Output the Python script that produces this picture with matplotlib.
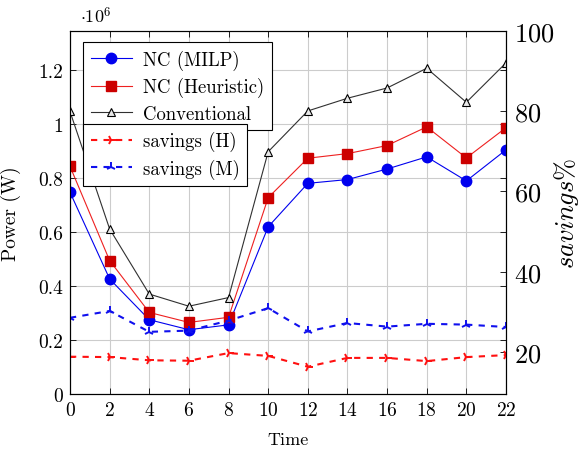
import numpy as np
import matplotlib
matplotlib.use("Agg")
import matplotlib.pyplot as plt
from matplotlib.ticker import FuncFormatter

plt.rcParams['font.family'] = 'serif'
plt.rcParams['font.serif'] = ['cmr10', 'DejaVu Serif']
plt.rcParams['mathtext.fontset'] = 'cm'
plt.rcParams['axes.formatter.use_mathtext'] = True

# data (power in W, savings in %)
time = [0, 2, 4, 6, 8, 10, 12, 14, 16, 18, 20, 22]
nc_milp = [0.747e6, 0.426e6, 0.275e6, 0.238e6, 0.256e6, 0.619e6,
           0.780e6, 0.794e6, 0.833e6, 0.878e6, 0.789e6, 0.904e6]
nc_heur = [0.843e6, 0.494e6, 0.302e6, 0.265e6, 0.284e6, 0.727e6,
           0.873e6, 0.890e6, 0.920e6, 0.989e6, 0.874e6, 0.986e6]
conventional = [1.046e6, 0.611e6, 0.370e6, 0.325e6, 0.357e6, 0.897e6,
                1.048e6, 1.095e6, 1.133e6, 1.206e6, 1.080e6, 1.226e6]
savings_h = [18.8, 18.7, 17.9, 17.8, 19.7, 19.0, 16.3, 18.5, 18.5, 17.7, 18.7, 19.2]
savings_m = [28.5, 30.2, 25.0, 25.3, 27.8, 30.9, 25.1, 27.2, 26.3, 27.0, 26.8, 26.2]

fig = plt.figure(figsize=(5.88, 4.52), dpi=100)
ax = fig.add_axes([70/588, 1-395/452, 436/588, 363/452])
ax2 = ax.twinx()

l1, = ax.plot(time, nc_milp, color='#0000ee', lw=0.8, marker='o', ms=7.5,
              label='NC (MILP)', zorder=3)
l2, = ax.plot(time, nc_heur, color='#ee2020', lw=0.8, marker='s', ms=7.5,
              mfc='#cc0000', mec='#cc0000', label='NC (Heuristic)', zorder=3)
l3, = ax.plot(time, conventional, color='#303030', lw=0.8, marker='^', ms=6,
              mfc='#e8e8e8', mec='black', mew=0.8, label='Conventional', zorder=3)

l4, = ax2.plot(time, savings_h, color='#ff1010', lw=1.5, ls=(0, (3, 3)),
               marker='4', ms=7, mew=1.4, label='savings (H)')
l5, = ax2.plot(time, savings_m, color='#1010ee', lw=1.5, ls=(0, (3, 3)),
               marker='2', ms=7, mew=1.4, label='savings (M)')

ax.set_xlim(0, 22)
ax.set_ylim(0, 1.344e6)
ax.set_xticks(time)
ax.set_yticks(np.arange(0, 1.25e6, 0.2e6))
ax.yaxis.set_major_formatter(FuncFormatter(lambda v, p: '%g' % round(v/1e6, 2)))
ax.grid(True, color='#cccccc', lw=0.8)
ax.set_axisbelow(True)
ax.tick_params(direction='in', length=4, top=True, right=True, labelsize=14,
               width=0.6, pad=5)
ax.set_xlabel('Time', fontsize=13, labelpad=9)
ax.set_ylabel('Power (W)', fontsize=14, labelpad=12)

ax2.set_ylim(9.5, 100)
ax2.set_yticks([20, 40, 60, 80, 100])
ax2.tick_params(direction='in', length=4, labelsize=19, pad=6, width=0.6)
ax2.set_ylabel(r'$savings\%$', fontsize=19, rotation=90)
ax2.yaxis.set_label_coords(1.105, 0.5)

for a in (ax, ax2):
    for s in a.spines.values():
        s.set_linewidth(0.8)

fig.text(96/588, 1-16/452, r'$\cdot 10^6$', fontsize=13, ha='center', va='center')

leg1 = ax.legend(handles=[l1, l2, l3], loc='upper left', bbox_to_anchor=(0.03, 0.97),
                 fontsize=13.5, fancybox=False, edgecolor='black', framealpha=1,
                 handlelength=2.2, labelspacing=0.4, borderaxespad=0,
                 handletextpad=0.6, borderpad=0.4)
leg1.get_frame().set_linewidth(0.8)
leg2 = ax2.legend(handles=[l4, l5], loc='upper left', bbox_to_anchor=(0.03, 0.745),
                  fontsize=13.5, fancybox=False, edgecolor='black', framealpha=1,
                  handlelength=2.2, labelspacing=0.4, borderaxespad=0,
                  handletextpad=0.6, borderpad=0.4)
leg2.get_frame().set_linewidth(0.8)
ax2.set_zorder(ax.get_zorder() + 1)
ax2.patch.set_visible(False)
# both legends drawn on the top axes so they cover the savings lines
ax.legend_.remove()
ax2.add_artist(leg1)

fig.savefig('out.png', dpi=100)
